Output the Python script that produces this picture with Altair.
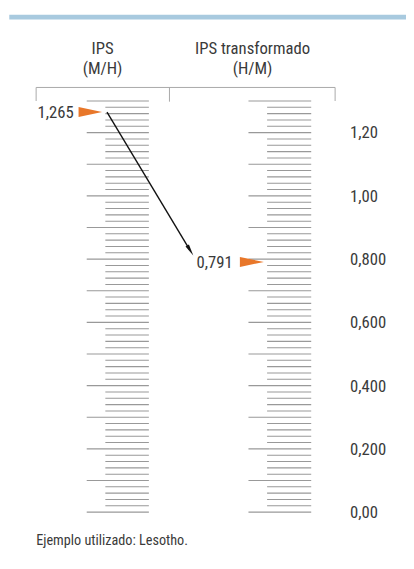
import math
import altair as alt
import pandas as pd

# ---------------- data ----------------
ips_value = [1.265]            # IPS (M/H)
ips_transformed = [0.791]      # IPS transformado (H/M)
ips_label = ["1,265"]
ipst_label = ["0,791"]
major_ticks = [0.0, 0.1, 0.2, 0.3, 0.4, 0.5, 0.6, 0.7, 0.8, 0.9, 1.0, 1.1, 1.2, 1.3]
minor_steps = [0.02, 0.04, 0.06, 0.08]
axis_values = [0.0, 0.2, 0.4, 0.6, 0.8, 1.0, 1.2]
axis_labels = ["0,00", "0,200", "0,400", "0,600", "0,800", "1,00", "1,20"]
titles = ["IPS", "IPS transformado"]
subtitles = ["(M/H)", "(H/M)"]
footer = ["Ejemplo utilizado: Lesotho."]

minor_ticks = [round(m + s, 2) for m in major_ticks[:-1] for s in minor_steps]

# ---------------- style ----------------
FONT = "Roboto Condensed, DejaVu Sans Condensed, Roboto, sans-serif"
TXT = "#3a3a3a"
GRAY = "#999999"
ORANGE = "#e8772a"
BLUE = "#a8cadf"
W, H = 406, 553
FS = 17

y_scale = alt.Scale(domain=[0, 1.3], range=[508.7, 89.3], nice=False, zero=False)


def Y(field):
    return alt.Y(f"{field}:Q", scale=y_scale, axis=None)


one = pd.DataFrame({"k": [0]})

bar = alt.Chart(one).mark_rect(color=BLUE).encode(
    x=alt.value(1.3), x2=alt.value(W), y=alt.value(1.3), y2=alt.value(6.3)
)

def title_layer(txt, xpos, ypos):
    return alt.Chart(pd.DataFrame({"t": [txt]})).mark_text(
        font=FONT, fontSize=FS, color=TXT, align="center", baseline="alphabetic"
    ).encode(x=alt.value(xpos), y=alt.value(ypos), text="t:N")

t1 = title_layer(titles[0], 96.5, 41)
t2 = title_layer(subtitles[0], 96.5, 61.5)
t3 = title_layer(titles[1], 249.5, 41)
t4 = title_layer(subtitles[1], 249.5, 61.5)

def rule_px(x1, x2, y1, y2):
    return alt.Chart(one).mark_rule(color="#a8a8a8", strokeWidth=1).encode(
        x=alt.value(x1), x2=alt.value(x2), y=alt.value(y1), y2=alt.value(y2)
    )

bracket = [
    rule_px(28.7, 333.7, 75.5, 75.5),
    rule_px(28.7, 28.7, 75.5, 89.3),
    rule_px(164.7, 164.7, 75.5, 90),
    rule_px(333.7, 333.7, 75.5, 89.3),
]

major_df = pd.DataFrame({"v": major_ticks})
minor_df = pd.DataFrame({"v": minor_ticks})

def ticks(df, x1, x2):
    return alt.Chart(df).mark_rule(color=GRAY, strokeWidth=1.1).encode(
        x=alt.value(x1), x2=alt.value(x2), y=Y("v")
    )

left_major = ticks(major_df, 80.3, 143.7)
left_minor = ticks(minor_df, 99.3, 143.7)
right_major = ticks(major_df, 245.3, 309.3)
right_minor = ticks(minor_df, 264.3, 309.3)

axis_df = pd.DataFrame({"v": axis_values, "lab": axis_labels})
axis_text = alt.Chart(axis_df).mark_text(
    font=FONT, fontSize=FS, color=TXT, align="left", baseline="alphabetic", dy=6
).encode(x=alt.value(349), y=Y("v"), text="lab:N")

TRI = "M-1,-0.42L1,0L-1,0.42Z"
ips_df = pd.DataFrame({"v": ips_value, "lab": ips_label})
ipst_df = pd.DataFrame({"v": ips_transformed, "lab": ipst_label})

tri_left = alt.Chart(ips_df).mark_point(
    shape=TRI, filled=True, color=ORANGE, opacity=1, size=576, strokeWidth=0
).encode(x=alt.value(84), y=Y("v"))
tri_right = alt.Chart(ipst_df).mark_point(
    shape=TRI, filled=True, color=ORANGE, opacity=1, size=600, strokeWidth=0
).encode(x=alt.value(248.8), y=Y("v"))

lab_left = alt.Chart(ips_df).mark_text(
    font=FONT, fontSize=FS, color=TXT, align="right", baseline="alphabetic", dy=6
).encode(x=alt.value(67), y=Y("v"), text="lab:N")
lab_right = alt.Chart(ipst_df).mark_text(
    font=FONT, fontSize=FS, color=TXT, align="right", baseline="alphabetic", dy=6
).encode(x=alt.value(229.3), y=Y("v"), text="lab:N")

# arrow from the IPS value to the transformed value
x_start, x_tip = 101.0, 189.0
tip_off = -6.5  # tip sits slightly above the 0.791 mark
arrow_df = pd.DataFrame({"a": ips_value, "b": ips_transformed})
y_start_px = 508.7 - ips_value[0] / 1.3 * 419.4
y_tip_px = 508.7 - ips_transformed[0] / 1.3 * 419.4 + tip_off
dx, dy = x_tip - x_start, y_tip_px - y_start_px
L = math.hypot(dx, dy)
ux, uy = dx / L, dy / L
ang = math.degrees(math.atan2(dy, dx))
head_len = 12
line = alt.Chart(arrow_df).mark_rule(
    color="#111111", strokeWidth=1.4, y2Offset=tip_off - uy * head_len * 0.6
).encode(
    x=alt.value(x_start), x2=alt.value(x_tip - ux * head_len * 0.6),
    y=Y("a"), y2=alt.Y2("b:Q")
)
HEAD = "M-1,-0.34L1,0L-1,0.34Z"
head = alt.Chart(arrow_df).mark_point(
    shape=HEAD, filled=True, color="#111111", opacity=1, size=head_len ** 2,
    strokeWidth=0, angle=ang, yOffset=tip_off - uy * head_len / 2
).encode(x=alt.value(x_tip - ux * head_len / 2), y=Y("b"))

foot = alt.Chart(pd.DataFrame({"t": footer})).mark_text(
    font=FONT, fontSize=14.5, color=TXT, align="left", baseline="alphabetic"
).encode(x=alt.value(28.7), y=alt.value(542.5), text="t:N")

chart = alt.layer(
    bar, t1, t2, t3, t4, *bracket,
    left_major, left_minor, right_major, right_minor,
    axis_text, line, head, tri_left, tri_right, lab_left, lab_right, foot
).properties(
    width=W, height=H, padding=0, autosize=alt.AutoSizeParams(type="none")
).configure_view(stroke=None)

chart.save("out.html", embed_options={"renderer": "svg", "actions": False})
